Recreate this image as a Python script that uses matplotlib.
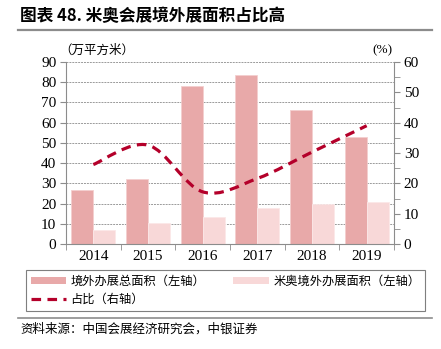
import matplotlib
matplotlib.use("Agg")
import matplotlib.pyplot as plt
from matplotlib.path import Path
from matplotlib.patches import PathPatch, Patch
from matplotlib.lines import Line2D
import numpy as np

plt.rcParams['font.family'] = ['Liberation Serif', 'Noto Sans CJK SC', 'DejaVu Sans']

years = ['2014', '2015', '2016', '2017', '2018', '2019']
total_area = [26.6, 32.1, 78.1, 83.5, 66.2, 52.7]
miao_area = [6.9, 10.4, 13.5, 18.0, 19.9, 20.6]
share = [26.2, 32.6, 17.2, 21.6, 30.3, 39.0]

title = '图表 48. 米奥会展境外展面积占比高'
left_unit = '（万平方米）'
right_unit = '(%)'
legend_labels = ['境外办展总面积（左轴）', '米奥境外办展面积（左轴）', '占比（右轴）']
source = '资料来源：中国会展经济研究会，中银证券'

c_total = '#E8A9A9'
c_miao = '#F8D8D8'
c_line = '#B4002A'
grey = '#8C8C8C'

W, H = 441, 349
fig = plt.figure(figsize=(W / 100, H / 100), dpi=100)
ax = fig.add_axes([66 / W, 1 - 244 / H, (394 - 66) / W, (244 - 62) / H])

x = np.arange(len(years))
bw = 0.4
ax.bar(x - bw / 2, total_area, width=bw, color=c_total, edgecolor='#F3CFCF', linewidth=0.6, zorder=2)
ax.bar(x + bw / 2, miao_area, width=bw, color=c_miao, edgecolor='#FBE8E8', linewidth=0.6, zorder=2)

ax.set_xlim(-0.5, len(years) - 0.5)
ax.set_ylim(0, 90)
ax.set_yticks(np.arange(0, 91, 10))
ax.set_xticks(x)
ax.set_xticklabels(years)
ax.set_xticks(np.arange(-0.5, len(years), 1), minor=True)
ax.tick_params(axis='x', which='major', length=0, labelsize=11, pad=4)
ax.tick_params(axis='x', which='minor', length=4, color=grey, direction='out')
ax.tick_params(axis='y', which='major', length=4, color=grey, direction='out', labelsize=11, pad=3)
ax.grid(axis='y', color='#9A9A9A', linestyle=(0, (2, 1)), linewidth=0.7, zorder=0)
ax.set_axisbelow(True)
for s in ['top', 'right']:
    ax.spines[s].set_visible(False)
for s in ['left', 'bottom']:
    ax.spines[s].set_color(grey)
    ax.spines[s].set_linewidth(0.8)

ax2 = ax.twinx()
ax2.set_ylim(0, 60)
ax2.set_yticks(np.arange(0, 61, 10))
ax2.set_yticks(np.arange(0, 61, 5), minor=True)
ax2.tick_params(axis='y', which='both', length=4, color=grey, direction='out', labelsize=11, pad=3)
for s in ['top', 'left', 'bottom']:
    ax2.spines[s].set_visible(False)
ax2.spines['right'].set_color(grey)
ax2.spines['right'].set_linewidth(0.8)

# smoothed line (Bezier through data points)
pts = np.column_stack([x, share]).astype(float)
n = len(pts)
verts = [tuple(pts[0])]
codes = [Path.MOVETO]
for i in range(n - 1):
    p0 = pts[max(i - 1, 0)]
    p1 = pts[i]
    p2 = pts[i + 1]
    p3 = pts[min(i + 2, n - 1)]
    c1 = p1 + (p2 - p0) / 6.0
    c2 = p2 - (p3 - p1) / 6.0
    verts += [tuple(c1), tuple(c2), tuple(p2)]
    codes += [Path.CURVE4] * 3
path = Path(verts, codes)
ax2.add_patch(PathPatch(path, facecolor='none', edgecolor=c_line, linewidth=2.3,
                        linestyle=(0, (3, 2)), capstyle='butt', zorder=3))

cjk = ['Noto Sans CJK SC', 'DejaVu Sans']
fig.text(20 / W, 1 - 16 / H, title, family=cjk, fontsize=12, fontweight='bold', va='center', ha='left')
fig.add_artist(Line2D([18 / W, 432 / W], [1 - 30 / H, 1 - 30 / H], color='#8C8C8C', linewidth=1.6))
fig.text(59 / W, 1 - 50 / H, left_unit, family=cjk, fontsize=9, va='center', ha='left')
fig.text(382 / W, 1 - 50 / H, right_unit, family=['Liberation Serif'], fontsize=9.5, va='center', ha='center')

handles = [Patch(facecolor=c_total, edgecolor='none'),
           Line2D([], [], color=c_line, linewidth=2.3, linestyle=(0, (3, 2))),
           Patch(facecolor=c_miao, edgecolor='none')]
labels = [legend_labels[0], legend_labels[2], legend_labels[1]]
leg = fig.legend(handles, labels, ncol=2, loc='upper left',
                 bbox_to_anchor=(26 / W, 1 - 270 / H),
                 frameon=True, fancybox=False, framealpha=1,
                 edgecolor='#7F7F7F', prop={'family': cjk, 'size': 8.8},
                 handlelength=2.9, handleheight=0.6, handletextpad=0.35,
                 labelspacing=0.42, borderpad=0.4, borderaxespad=0, columnspacing=2.3)
leg.get_frame().set_linewidth(0.8)

fig.add_artist(Line2D([18 / W, 432 / W], [1 - 318 / H, 1 - 318 / H], color='#8C8C8C', linewidth=1.2))
fig.text(20 / W, 1 - 329 / H, source, family=cjk, fontsize=9, va='center', ha='left')

fig.savefig('out.png', dpi=100)
